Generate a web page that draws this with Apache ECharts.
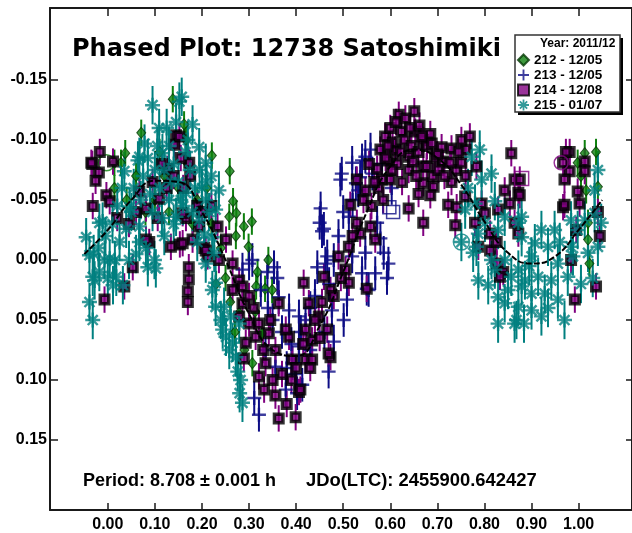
<!DOCTYPE html>
<html>
<head>
<meta charset="utf-8">
<script src="https://cdn.jsdelivr.net/npm/echarts@6/dist/echarts.min.js"></script>
<style>
  html, body { margin: 0; padding: 0; background: #fff; }
  #chart { width: 632px; height: 533px; }
</style>
</head>
<body>
<div id="chart"></div>
<script>
// Tick positions
const xTicks = [0, 0.1, 0.2, 0.3, 0.4, 0.5, 0.6, 0.7, 0.8, 0.9, 1.0];
const yTicks = [-0.15, -0.10, -0.05, 0, 0.05, 0.10, 0.15];

// Observing sessions
const sessions = ['212 - 12/05', '213 - 12/05', '214 - 12/08', '215 - 01/07'];

// [phase, reduced magnitude] per session
const pts212 = [
  [0.138,-0.134],[0.071,-0.106],[0.162,-0.113],[0.037,-0.089],[0.221,-0.087],[0.259,-0.074],[0.014,-0.081],[0.014,-0.060],[0.028,-0.081],[0.166,-0.100],
  [0.266,-0.049],[0.258,-0.036],[0.273,-0.039],[0.289,-0.028],[0.306,-0.032],[0.272,-0.020],[0.299,-0.011],[0.341,0.000],[0.318,0.010],[0.315,0.022],
  [0.334,0.024],[0.349,0.025],[0.313,0.043],[0.279,0.044],[0.307,0.086],[0.328,0.061],
  [0.110,-0.090],[0.120,-0.070],[0.100,-0.050],[0.130,-0.040],[0.150,-0.060],[0.170,-0.080],[0.190,-0.050],[0.180,-0.030],[0.210,-0.060],[0.220,-0.030],
  [0.060,-0.070],[0.080,-0.040],[0.040,-0.050],[0.240,-0.010],[0.250,0.015],[0.260,0.035],[0.270,0.060],[0.290,0.075],[0.230,0.020],
  [1.037,-0.090],[1.013,-0.089],[0.998,-0.081],[1.016,-0.058],[1.020,-0.031],[1.020,-0.017],[1.023,0.003],[1.041,-0.061],[1.005,-0.070]
];
const pts213 = [
  [0.494,-0.067],[0.519,-0.081],[0.547,-0.086],[0.558,-0.092],[0.536,-0.069],[0.452,-0.043],[0.450,-0.031],[0.455,-0.024],[0.466,-0.003],[0.445,0.006],
  [0.462,0.003],[0.512,-0.036],[0.547,-0.006],[0.540,0.011],[0.554,0.025],[0.568,0.011],[0.508,0.033],[0.501,0.050],[0.476,0.042],[0.469,0.093],
  [0.413,0.104],[0.596,0.003],[0.593,0.015],[0.586,-0.006],[0.572,-0.031],[0.459,-0.026],[0.579,-0.018],[0.519,-0.003],[0.550,0.024],[0.497,-0.072],
  [0.540,-0.083],[0.527,-0.064],
  [0.300,0.003],[0.307,0.000],[0.353,0.006],[0.360,0.015],[0.339,0.010],[0.363,0.031],[0.385,0.042],[0.406,0.047],[0.311,0.115],[0.321,0.129],
  [0.378,0.108],[0.402,0.111],[0.356,0.089],[0.335,0.075],[0.406,0.072],[0.392,0.086],
  [0.370,0.060],[0.390,0.070],[0.410,0.060],[0.420,0.050],[0.430,0.040],[0.440,0.030],[0.350,0.050],[0.340,0.040],[0.380,0.090],[0.398,0.095],
  [0.430,0.075],[0.470,0.020],[0.480,0.000],[0.490,-0.020],[0.500,-0.040],[0.520,-0.050],[0.532,-0.058],[0.562,-0.072],[0.582,-0.080],[0.603,-0.060],
  [0.480,0.068],[0.460,0.060],[0.286,0.008],[0.325,0.025]
];
const pts214 = [
  [-0.017,-0.090],[-0.033,-0.080],[-0.019,-0.073],[-0.026,-0.066],[-0.003,-0.054],[0.004,-0.049],[-0.032,-0.045],[0.011,-0.082],[-0.035,-0.081],
  [0.106,-0.035],[0.088,-0.015],[0.053,0.006],[0.035,0.022],[-0.007,0.033],[0.134,-0.011],[0.153,-0.013],[0.172,0.006],[0.172,0.016],[0.170,0.026],
  [0.170,0.035],[0.081,-0.017],[0.205,-0.010],[0.212,-0.003],[0.233,-0.028],[0.180,-0.017],[0.145,-0.104],[0.141,-0.096],[0.067,-0.057],[0.081,-0.043],
  [0.109,-0.051],[0.127,-0.076],[0.159,-0.014],[0.166,-0.035],[0.152,-0.103],[0.173,-0.081],
  [0.095,-0.065],[0.115,-0.080],[0.125,-0.060],[0.140,-0.070],[0.155,-0.085],[0.160,-0.060],[0.175,-0.070],[0.060,-0.040],[0.045,-0.030],[0.020,-0.035],
  [0.190,-0.045],[0.200,-0.040],[0.220,-0.045],
  [0.251,-0.017],[0.265,0.003],[0.279,0.017],[0.286,0.036],[0.279,0.047],[0.300,0.053],[0.314,0.064],[0.236,0.000],[0.208,-0.008],[0.194,-0.028],
  [0.159,-0.039],[0.286,0.022],[0.265,0.025],[0.293,0.069],[0.289,0.082],[0.321,0.097],[0.332,0.108],[0.356,0.113],[0.363,0.132],[0.399,0.131],
  [0.406,0.110],[0.392,0.083],[0.356,0.075],[0.335,0.086],[0.385,0.064],[0.420,0.058],[0.420,0.083],[0.416,0.019],[0.363,0.036],[0.378,0.058],
  [0.342,0.061],[0.321,0.053],
  [0.390,0.100],[0.370,0.095],[0.380,0.120],[0.350,0.100],[0.400,0.090],[0.415,0.070],[0.345,0.050],[0.330,0.075],[0.310,0.040],[0.300,0.030],
  [0.427,0.036],[0.448,0.047],[0.466,0.058],[0.434,0.067],[0.473,0.081],[0.434,0.083],[0.409,0.108],[0.469,0.078],[0.459,0.014],[0.473,0.025],
  [0.490,-0.003],[0.505,0.008],[0.512,0.019],[0.512,-0.011],[0.536,-0.022],[0.529,-0.031],[0.515,-0.046],[0.543,-0.050],[0.529,-0.067],[0.550,0.024],
  [0.568,-0.017],[0.558,-0.028],[0.547,-0.058],[0.480,0.030],[0.495,0.015],[0.520,-0.020],[0.450,0.065],[0.440,0.050],[0.430,0.090],[0.455,0.035],
  [0.618,-0.121],[0.651,-0.124],[0.589,-0.103],[0.624,-0.107],[0.653,-0.107],[0.670,-0.100],[0.579,-0.092],[0.639,-0.086],[0.610,-0.092],[0.670,-0.078],
  [0.639,-0.075],[0.600,-0.067],[0.572,-0.076],[0.670,-0.064],[0.639,-0.043],[0.670,-0.031],[0.582,-0.067],[0.596,-0.083],
  [0.600,-0.110],[0.605,-0.098],[0.630,-0.100],[0.645,-0.095],[0.660,-0.090],[0.615,-0.080],[0.625,-0.065],[0.655,-0.070],[0.590,-0.085],[0.575,-0.060],
  [0.560,-0.045],[0.585,-0.050],[0.660,-0.055],
  [0.595,-0.095],[0.612,-0.115],[0.632,-0.118],[0.642,-0.110],[0.662,-0.112],[0.678,-0.095],[0.695,-0.085],[0.712,-0.082],[0.622,-0.090],[0.648,-0.082],
  [0.603,-0.075],[0.566,-0.065],[0.555,-0.080],[0.690,-0.070],[0.740,-0.075],[0.760,-0.092],[0.685,-0.105],
  [0.667,-0.103],[0.688,-0.097],[0.709,-0.094],[0.730,-0.093],[0.751,-0.100],[0.769,-0.103],[0.677,-0.078],[0.702,-0.075],[0.727,-0.081],[0.751,-0.081],
  [0.692,-0.061],[0.730,-0.065],[0.685,-0.054],[0.723,-0.046],[0.741,-0.044],[0.759,-0.053],[0.794,-0.047],[0.801,-0.039],[0.738,-0.029],[0.780,-0.031],
  [0.787,-0.011],[0.812,-0.008],[0.826,0.003],[0.840,0.010],[0.857,-0.089],[0.843,-0.058],[0.864,-0.067],[0.872,-0.056],[0.854,-0.047],[0.864,-0.031],
  [0.872,-0.022],[0.829,-0.042],[0.812,-0.022],[0.826,-0.015],[0.783,-0.078],[0.833,0.014],[0.700,-0.088],[0.715,-0.070],[0.745,-0.090],[0.760,-0.070],
  [0.981,-0.090],[0.967,-0.081],[0.981,-0.074],[0.970,-0.067],[1.013,-0.082],[1.013,-0.074],[0.998,-0.057],[1.002,-0.047],[0.967,-0.044],[1.041,-0.040],
  [1.037,0.022],[0.992,0.033],[0.984,0.000],[0.875,-0.067],[0.875,-0.054],[0.995,-0.025],[0.970,-0.046],[0.973,-0.090],[1.045,-0.020]
];
const pts215 = [
  [-0.046,-0.019],[-0.039,-0.004],[-0.032,0.014],[-0.039,0.035],[-0.032,0.050],[-0.018,0.010],[-0.011,-0.032],[0.004,-0.001],[0.011,0.021],[0.032,0.021],
  [0.085,0.006],[0.099,0.000],[0.067,-0.015],[0.039,-0.026],[0.025,-0.015],[-0.028,0.017],[-0.018,-0.031],[-0.007,0.000],[0.018,0.014],[0.046,-0.044],
  [0.067,-0.028],[0.081,-0.010],[0.102,0.007],
  [0.095,-0.129],[0.109,-0.110],[0.078,-0.097],[0.067,-0.086],[0.152,-0.132],[0.157,-0.136],[0.180,-0.113],[0.035,-0.074],[0.064,-0.083],[0.116,-0.089],
  [0.194,-0.094],[0.208,-0.081],
  [0.120,-0.075],[0.130,-0.095],[0.140,-0.080],[0.150,-0.065],[0.165,-0.090],[0.175,-0.075],[0.185,-0.060],[0.130,-0.050],[0.115,-0.035],[0.090,-0.055],
  [0.100,-0.075],[0.075,-0.070],[0.055,-0.060],[0.050,-0.040],[0.120,-0.020],[0.140,-0.030],[0.160,-0.045],[0.180,-0.040],[0.195,-0.075],[0.210,-0.065],
  [0.020,-0.045],[0.010,-0.030],[-0.020,-0.010],[0.000,0.015],[0.060,-0.005],[0.045,0.000],[0.220,-0.070],
  [0.085,-0.085],[0.105,-0.095],[0.125,-0.110],[0.145,-0.115],[0.170,-0.100],[0.135,-0.065],[0.155,-0.050],[0.110,-0.060],[0.095,-0.040],[0.070,-0.050],
  [0.030,-0.060],[-0.005,-0.020],[-0.030,-0.005],[0.015,0.000],[0.190,-0.015],[0.215,-0.040],[0.200,-0.060],
  [0.145,-0.036],[0.166,-0.056],[0.194,-0.033],[0.205,-0.021],[0.208,0.003],[0.222,0.025],[0.229,0.039],[0.240,0.050],[0.251,0.064],[0.258,0.075],
  [0.279,0.053],[0.236,-0.058],[0.229,-0.042],[0.208,-0.050],[0.222,-0.019],[0.226,-0.006],[0.229,0.019],[0.247,0.039],[0.244,0.058],[0.265,0.069],
  [0.272,0.081],[0.261,0.047],[0.282,0.100],[0.280,0.111],[0.286,0.119],[0.276,0.093],
  [0.794,-0.067],[0.780,-0.047],[0.759,-0.042],[0.801,-0.031],[0.783,-0.011],[0.829,-0.025],[0.843,-0.036],[0.872,-0.031],[0.879,-0.019],[0.907,-0.014],
  [0.921,-0.025],[0.949,-0.025],[0.935,-0.011],[0.900,-0.003],[0.815,0.000],[0.843,0.000],[0.872,0.008],[0.787,0.017],[0.822,0.008],[0.857,0.014],
  [0.886,0.017],[0.914,0.014],[0.942,0.017],[0.829,0.031],[0.850,0.025],[0.879,0.022],[0.900,0.028],[0.928,0.028],[0.956,0.033],[0.843,0.036],
  [0.872,0.039],[0.900,0.042],[0.921,0.047],[0.970,0.050],[0.829,0.053],[0.864,0.053],[0.956,0.003],[0.984,-0.011],[0.998,-0.025],[1.013,-0.033],
  [1.034,-0.039],[1.048,-0.031],[1.041,-0.011],[0.984,-0.033],[0.879,-0.036],[0.884,0.053],[1.041,-0.075],[1.034,-0.058],[0.988,-0.003],[0.977,0.014],
  [1.020,-0.006],[0.773,-0.086],[0.790,-0.092],[0.815,-0.072],[0.822,-0.049],[0.787,-0.022],[0.776,-0.006],[0.808,0.021],[0.868,0.050],[1.030,0.015],
  [1.005,0.020],[0.765,-0.060],[0.935,0.040],[0.960,-0.015],[0.895,0.005],[0.751,-0.015]
];

// Reference (epoch) points, drawn as open markers
const ref212 = [[-0.003,-0.081]];
const ref213 = [[0.598,-0.044],[0.606,-0.040]];
const ref214sq = [[0.879,-0.068]];
const ref214ci = [[0.963,-0.081]];
const ref215 = [[0.751,-0.015]];

// Typical photometric error per session (mag)
const err212 = 0.011, err213 = 0.014, err214 = 0.011, err215 = 0.016;

// Fourier fit of the lightcurve
const fitPhase = [-0.05,0.00,0.05,0.10,0.15,0.20,0.25,0.30,0.35,0.40,0.45,0.50,0.55,0.60,0.65,0.70,0.75,0.80,0.85,0.90,0.95,1.00,1.05];
const fitMag   = [-0.005,-0.025,-0.050,-0.066,-0.065,-0.040,0.000,0.045,0.075,0.080,0.055,0.010,-0.040,-0.078,-0.092,-0.085,-0.063,-0.032,-0.006,0.003,-0.003,-0.025,-0.050];

const colGreen = '#0e800e', colNavy = '#0d0d85', colPurple = '#800080', colTeal = '#008080';

const plusPath = 'path://M5.8,0H8.2V5.8H14V8.2H8.2V14H5.8V8.2H0V5.8H5.8Z';
const starPath = 'path://M8.4,0L11.6,0L11.6,20L8.4,20Z M0,8.4L20,8.4L20,11.6L0,11.6Z ' +
  'M4.5,2.2L17.8,15.5L15.5,17.8L2.2,4.5Z M15.5,2.2L17.8,4.5L4.5,17.8L2.2,15.5Z';

function errorBars(name, pts, err, color, width) {
  return {
    type: 'custom',
    name: name,
    silent: true,
    data: pts.map(p => [p[0], p[1] - err, p[1] + err]),
    encode: { x: 0, y: [1, 2] },
    renderItem: function (params, api) {
      const a = api.coord([api.value(0), api.value(1)]);
      const b = api.coord([api.value(0), api.value(2)]);
      return {
        type: 'line',
        shape: { x1: a[0], y1: a[1], x2: b[0], y2: b[1] },
        style: { stroke: color, lineWidth: width }
      };
    }
  };
}

function openMarks(name, pts, symbol, size, color) {
  return {
    type: 'scatter', name: name, silent: true,
    data: pts, symbol: symbol, symbolSize: size,
    itemStyle: { color: 'rgba(0,0,0,0)', borderColor: color, borderWidth: 1.5 }
  };
}

const axisDark = '#1a1a1a';
const labelFont = { color: '#000', fontFamily: 'Liberation Sans', fontWeight: 'bold', fontSize: 16 };
const X_MIN = -0.1228, X_MAX = 1.1134, Y_MIN = -0.21, Y_MAX = 0.20833;

const chart = echarts.init(document.getElementById('chart'), null, { renderer: 'canvas' });
chart.setOption({
  animation: false,
  backgroundColor: '#fff',
  grid: { left: 50, top: 8, width: 584, height: 502 },
  xAxis: [
    {
      type: 'value', min: X_MIN, max: X_MAX, position: 'bottom',
      axisLine: { show: true, onZero: false, lineStyle: { color: axisDark, width: 2 } },
      axisTick: { show: true, inside: true, length: 7, customValues: xTicks, lineStyle: { color: axisDark, width: 1.5 } },
      axisLabel: Object.assign({ customValues: xTicks, margin: 7, formatter: v => v.toFixed(2) }, labelFont),
      splitLine: { show: false }
    },
    {
      type: 'value', min: X_MIN, max: X_MAX, position: 'top',
      axisLine: { show: true, onZero: false, lineStyle: { color: axisDark, width: 2 } },
      axisTick: { show: true, inside: true, length: 8, customValues: xTicks, lineStyle: { color: axisDark, width: 1.5 } },
      axisLabel: { show: false },
      splitLine: { show: false }
    }
  ],
  yAxis: [
    {
      type: 'value', min: Y_MIN, max: Y_MAX, inverse: true, position: 'left',
      axisLine: { show: true, onZero: false, lineStyle: { color: axisDark, width: 2 } },
      axisTick: { show: true, inside: true, length: 8, customValues: yTicks, lineStyle: { color: axisDark, width: 1.5 } },
      axisLabel: Object.assign({ customValues: yTicks, margin: 3, formatter: v => v.toFixed(2) }, labelFont),
      splitLine: { show: false }
    },
    {
      type: 'value', min: Y_MIN, max: Y_MAX, inverse: true, position: 'right',
      axisLine: { show: true, onZero: false, lineStyle: { color: axisDark, width: 2 } },
      axisTick: { show: true, inside: true, length: 6, customValues: yTicks, lineStyle: { color: axisDark, width: 1.5 } },
      axisLabel: { show: false },
      splitLine: { show: false }
    }
  ],
  legend: {
    data: sessions,
    orient: 'vertical',
    left: 517, top: 53,
    itemWidth: 11, itemHeight: 11, itemGap: 1,
    padding: 0,
    selectedMode: false,
    textStyle: { fontFamily: 'Liberation Sans', fontWeight: 'bold', fontSize: 13.5, color: '#000' }
  },
  graphic: [
    { type: 'rect', z: 3, shape: { x: 518, y: 38, width: 105, height: 77 }, style: { fill: '#000' } },
    { type: 'rect', z: 3, shape: { x: 515, y: 35, width: 105, height: 77 }, style: { fill: '#fff', stroke: '#333', lineWidth: 1.5 } },
    { type: 'text', z: 5, left: 540, top: 38,
      style: { text: 'Year: 2011/12', fill: '#000', font: 'bold 12px "Liberation Sans"' } },
    { type: 'text', z: 5, left: 72, top: 38,
      style: { text: 'Phased Plot: 12738 Satoshimiki', fill: '#000', font: 'bold 24px "DejaVu Sans"' } },
    { type: 'text', z: 5, left: 83, top: 472,
      style: { text: 'Period: 8.708 \u00b1 0.001 h', fill: '#000', font: 'bold 18px "Liberation Sans"' } },
    { type: 'text', z: 5, left: 306, top: 472,
      style: { text: 'JDo(LTC): 2455900.642427', fill: '#000', font: 'bold 18.4px "Liberation Sans"' } }
  ],
  series: [
    {
      type: 'line', name: 'fit', silent: true, smooth: true, symbol: 'none',
      data: fitPhase.map((p, i) => [p, fitMag[i]]),
      lineStyle: { color: '#000', width: 2, type: [6, 2] }
    },
    {
      type: 'scatter', name: sessions[0], data: pts212,
      symbol: 'diamond', symbolSize: [9, 11],
      itemStyle: { color: colGreen, borderColor: '#053805', borderWidth: 1 }
    },
    errorBars('212 err', pts212, err212, colGreen, 2),
    openMarks('212 ref', ref212, 'circle', 16, colGreen),
    {
      type: 'scatter', name: sessions[1], data: pts213,
      symbol: plusPath, symbolSize: 14,
      itemStyle: { color: colNavy }
    },
    errorBars('213 err', pts213, err213, colNavy, 2),
    openMarks('213 ref', ref213, 'rect', 13, colNavy),
    {
      type: 'scatter', name: sessions[2], data: pts214,
      symbol: 'rect', symbolSize: 8.5,
      itemStyle: { color: colPurple, borderColor: '#000', borderWidth: 3.5 }
    },
    errorBars('214 err', pts214, err214, colPurple, 2),
    openMarks('214 ref a', ref214sq, 'rect', 14, colPurple),
    openMarks('214 ref b', ref214ci, 'circle', 14, colPurple),
    {
      type: 'scatter', name: sessions[3], data: pts215,
      symbol: starPath, symbolSize: 15,
      itemStyle: { color: colTeal }
    },
    errorBars('215 err', pts215, err215, colTeal, 2),
    openMarks('215 ref', ref215, 'circle', 16, colTeal)
  ]
});
</script>
</body>
</html>
